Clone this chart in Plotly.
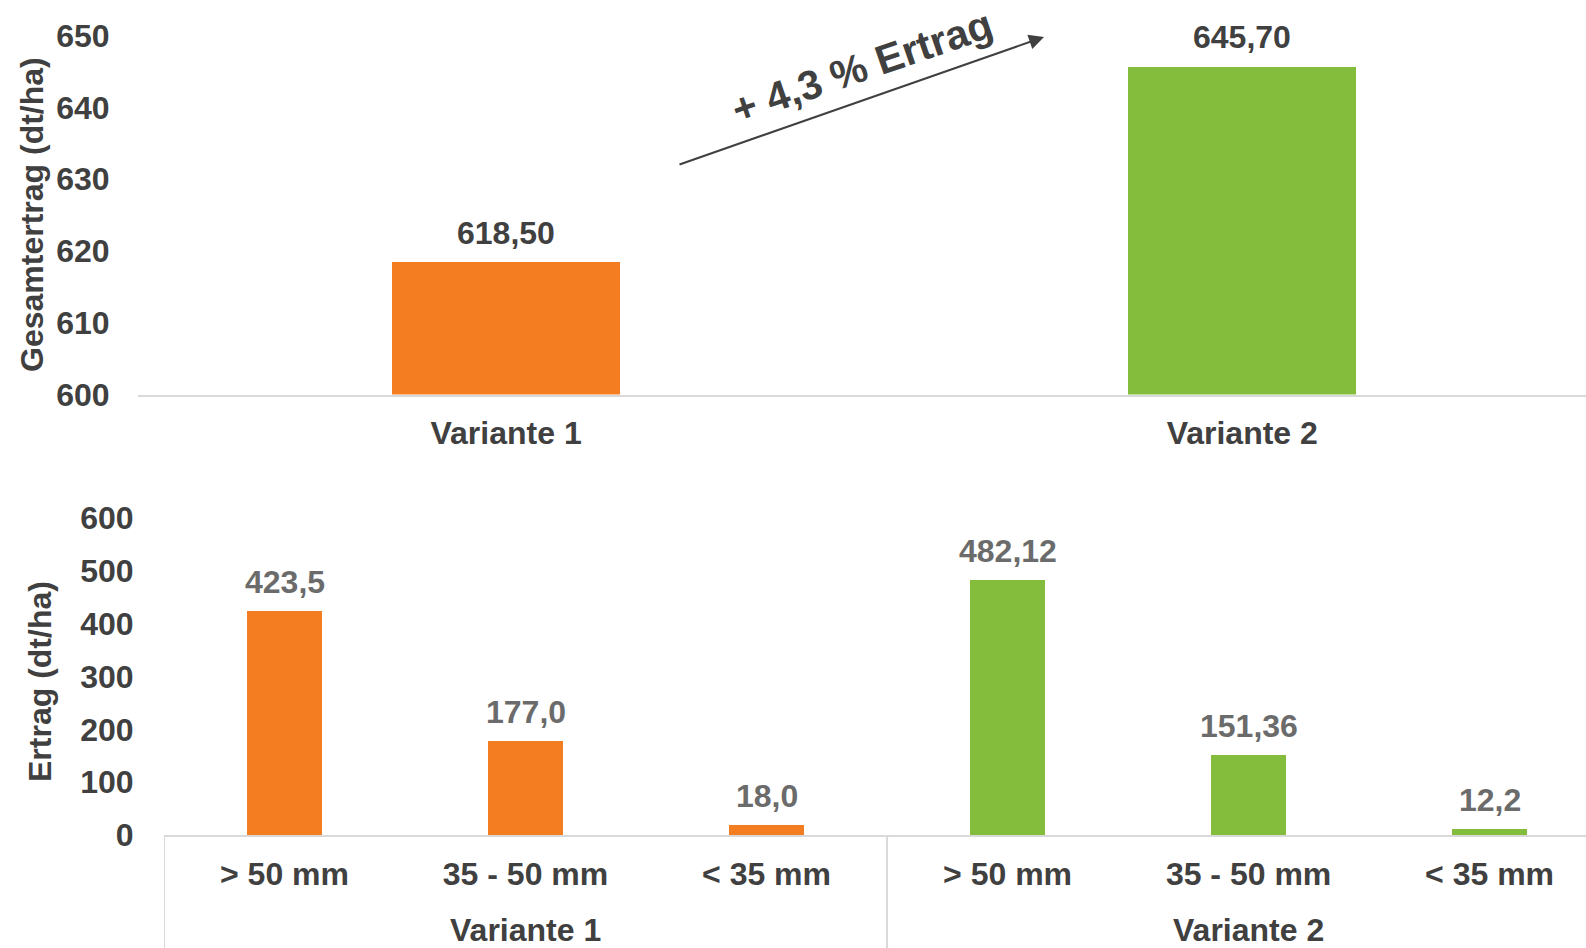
import plotly.graph_objects as go

# ---- data ----
variants = ["Variante 1", "Variante 2"]
total_yield = [618.50, 645.70]
total_labels = ["618,50", "645,70"]

size_classes = ["> 50 mm", "35 - 50 mm", "< 35 mm"]
yield_v1 = [423.5, 177.0, 18.0]
yield_v2 = [482.12, 151.36, 12.2]
labels_v1 = ["423,5", "177,0", "18,0"]
labels_v2 = ["482,12", "151,36", "12,2"]

top_ticks = [600, 610, 620, 630, 640, 650]
bottom_ticks = [0, 100, 200, 300, 400, 500, 600]

ORANGE = "#F47D21"
GREEN = "#84BC3B"
DARK = "#404040"
GRAY = "#6B6B6B"
AXIS = "#D9D9D9"
FONT = "Liberation Sans"
FS = 32

W, H = 1586, 948


def bfont(size=FS, color=DARK):
    return dict(family=FONT, size=size, color=color, weight="bold")


fig = go.Figure()

# top chart
fig.add_trace(go.Bar(
    x=variants, y=total_yield, marker_color=[ORANGE, GREEN], width=0.31,
    xaxis="x", yaxis="y", showlegend=False, hoverinfo="skip",
))

# bottom chart: unique category keys, shown with size-class tick text
bottom_keys = [f"{v}|{s}" for v in variants for s in size_classes]
bottom_ticktext = size_classes * len(variants)
bottom_vals = yield_v1 + yield_v2
bottom_labels = labels_v1 + labels_v2
fig.add_trace(go.Bar(
    x=bottom_keys, y=bottom_vals,
    marker_color=[ORANGE] * len(yield_v1) + [GREEN] * len(yield_v2), width=0.31,
    xaxis="x2", yaxis="y2", showlegend=False, hoverinfo="skip",
))

annotations = []
for cat, v, lab in zip(variants, total_yield, total_labels):
    annotations.append(dict(x=cat, y=v, xref="x", yref="y", text=lab,
                            showarrow=False, xanchor="center", yanchor="bottom", yshift=9,
                            font=bfont()))
for cat, v, lab in zip(bottom_keys, bottom_vals, bottom_labels):
    annotations.append(dict(x=cat, y=v, xref="x2", yref="y2", text=lab,
                            showarrow=False, xanchor="center", yanchor="bottom", yshift=9,
                            font=bfont(color=GRAY)))

# group labels for the bottom axis
n = len(size_classes)
for gi, v in enumerate(variants):
    annotations.append(dict(x=bottom_keys[gi * n + n // 2], y=1 - 930 / H,
                            xref="x2", yref="paper", text=v, showarrow=False,
                            xanchor="center", yanchor="middle", font=bfont()))

# axis titles
annotations.append(dict(x=32 / W, y=1 - 215 / H, xref="paper", yref="paper",
                        text="Gesamtertrag (dt/ha)", textangle=-90, showarrow=False,
                        xanchor="center", yanchor="middle", font=bfont()))
annotations.append(dict(x=40 / W, y=1 - 682 / H, xref="paper", yref="paper",
                        text="Ertrag (dt/ha)", textangle=-90, showarrow=False,
                        xanchor="center", yanchor="middle", font=bfont()))

# arrow
annotations.append(dict(x=1044 / W, y=1 - 37 / H, xref="paper", yref="paper",
                        ax=-366, ay=128, axref="pixel", ayref="pixel",
                        showarrow=True, arrowhead=2, arrowsize=1.5, arrowwidth=2,
                        arrowcolor=DARK, text=""))
annotations.append(dict(x=862 / W, y=1 - 67 / H, xref="paper", yref="paper",
                        text="+ 4,3 % Ertrag", textangle=-19, showarrow=False,
                        xanchor="center", yanchor="middle", font=bfont(size=41)))

# group dividers on the bottom axis
shapes = []
for gi in range(len(variants) + 1):
    shapes.append(dict(type="line", xref="x2", yref="paper",
                       x0=gi * n - 0.5, x1=gi * n - 0.5,
                       y0=1 - 835 / H, y1=0,
                       line=dict(color=AXIS, width=2)))

fig.update_layout(
    width=W, height=H,
    margin=dict(l=0, r=0, t=0, b=0),
    paper_bgcolor="white", plot_bgcolor="white",
    template="none",
    bargap=0,
    annotations=annotations,
    shapes=shapes,
    xaxis=dict(domain=[138 / W, 1], anchor="y", range=[-0.5, 1.467],
               showline=True, linecolor=AXIS, linewidth=2, showgrid=False,
               ticks="outside", ticklen=9, tickcolor="rgba(0,0,0,0)",
               tickfont=bfont(), automargin=False),
    yaxis=dict(domain=[1 - 394.5 / H, 1 - 35.5 / H], anchor="x", range=[600, 650],
               tickvals=top_ticks, showline=False, showgrid=False, zeroline=False,
               ticks="outside", ticklen=21, tickcolor="rgba(0,0,0,0)",
               tickfont=bfont(), automargin=False),
    xaxis2=dict(domain=[164 / W, 1], anchor="y2", range=[-0.5, 5.4],
                tickvals=bottom_keys, ticktext=bottom_ticktext,
                showline=True, linecolor=AXIS, linewidth=2, showgrid=False,
                ticks="outside", ticklen=10, tickcolor="rgba(0,0,0,0)",
                tickfont=bfont(), automargin=False),
    yaxis2=dict(domain=[1 - 835 / H, 1 - 518 / H], anchor="x2", range=[0, 600],
                tickvals=bottom_ticks, showline=False, showgrid=False, zeroline=False,
                ticks="outside", ticklen=23, tickcolor="rgba(0,0,0,0)",
                tickfont=bfont(), automargin=False),
)

fig.write_html("out.html")
